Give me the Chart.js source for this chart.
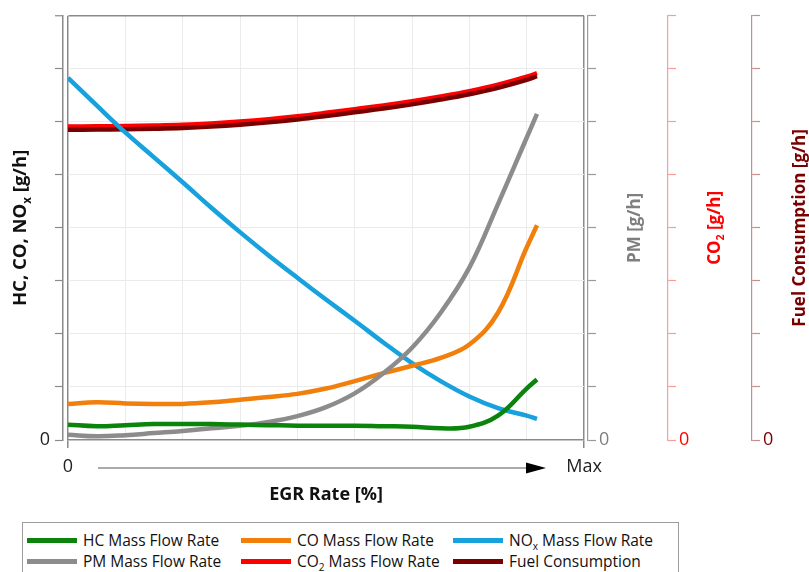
<!DOCTYPE html>
<html>
<head>
<meta charset="utf-8">
<script src="https://cdn.jsdelivr.net/npm/chart.js@4.4.1/dist/chart.umd.min.js"></script>
<style>
  html, body { margin: 0; padding: 0; background: #fff; }
  #wrap { position: relative; width: 809px; height: 572px; overflow: hidden; }
  #legend {
    position: absolute; left: 22px; top: 522px; width: 657px; height: 62px;
    border: 1px solid #9c9c9c; box-sizing: border-box; background: #fff;
    font-family: "Open Sans", sans-serif; font-size: 15.5px; color: #111;
  }
  .item { position: absolute; display: flex; align-items: center; height: 22px; white-space: nowrap; }
  .swatch { width: 50px; height: 5px; margin-right: 6px; }
  sub { font-size: 65%; line-height: 0; vertical-align: -0.4em; }
</style>
</head>
<body>
<div id="wrap">
  <canvas id="chart" width="809" height="572"></canvas>
  <div id="legend"></div>
</div>
<script>
// EGR rate positions (0 .. 9 = Max, one unit per grid column)
const egr  = [0,    0.5,   1,    1.5,  2,     2.5,  3,     3.5,  4,     4.5,  5,    5.5,  6,    6.5,  7,    7.5,  8,    8.18];
const hc   = [0.29, 0.26,  0.28, 0.30, 0.30,  0.30, 0.29,  0.28, 0.27,  0.27, 0.27, 0.26, 0.25, 0.22, 0.25, 0.46, 0.97, 1.14];
const co   = [0.68, 0.71,  0.69, 0.68, 0.68,  0.71, 0.76,  0.81, 0.87,  0.97, 1.11, 1.26, 1.40, 1.55, 1.80, 2.40, 3.63, 4.05];
const nox  = [6.83, 6.31,  5.80, 5.33, 4.86,  4.38, 3.92,  3.48, 3.06,  2.65, 2.25, 1.84, 1.45, 1.11, 0.82, 0.60, 0.46, 0.40];
const pm   = [0.10, 0.07,  0.09, 0.13, 0.17,  0.22, 0.27,  0.34, 0.45,  0.62, 0.88, 1.26, 1.74, 2.40, 3.25, 4.45, 5.70, 6.15];
const co2  = [5.91, 5.915, 5.92, 5.93, 5.945, 5.97, 6.005, 6.05, 6.105, 6.17, 6.24, 6.31, 6.39, 6.48, 6.58, 6.70, 6.85, 6.92];
const fuel = [5.85, 5.855, 5.86, 5.87, 5.885, 5.91, 5.945, 5.99, 6.045, 6.11, 6.18, 6.25, 6.33, 6.42, 6.52, 6.64, 6.79, 6.86];

const names = ["HC Mass Flow Rate", "CO Mass Flow Rate", "NOx Mass Flow Rate",
               "PM Mass Flow Rate", "CO2 Mass Flow Rate", "Fuel Consumption"];
const colors = ["#0a840a", "#f07f0c", "#17a1dd", "#8c8c8c", "#ff0000", "#7a0000"];

const frame = "#8a8a8a";
const faint = "#ebebeb";
const tickFont = { family: "Open Sans", size: 18 };

const pts = ys => egr.map((x, i) => ({ x: x, y: ys[i] }));

function series(i, data, axis, order) {
  return {
    label: names[i],
    data: pts(data),
    borderColor: colors[i],
    backgroundColor: colors[i],
    borderWidth: 4.5,
    pointRadius: 0,
    tension: 0.4,
    yAxisID: axis,
    order: order,
  };
}

// right-hand axes only carry a "0" label and tick marks
function sideAxis(weight, color, labelColor, width) {
  return {
    position: "right",
    weight: weight,
    min: 0,
    max: 8,
    grid: { drawOnChartArea: false, color: color, tickLength: 8, tickWidth: 1.2 },
    border: { color: color, width: 1.2 },
    ticks: { stepSize: 1, padding: 3, color: labelColor, font: tickFont,
             callback: v => (v === 0 ? "0" : "") },
    afterFit: s => { s.width = width; },
  };
}

function spacer(position, width) {
  return {
    position: position,
    weight: 0,
    grid: { display: false },
    ticks: { display: false },
    border: { display: false },
    afterFit: s => { s.width = width; },
  };
}

const axisTitles = [
  { axis: "y",     dx: 21, size: 18.5, color: "#111111", parts: [["HC, CO, NO"], ["x", true], [" [g/h]"]] },
  { axis: "yPM",   dx: 47, size: 17, color: "#7f7f7f", parts: [["PM [g/h]"]] },
  { axis: "yCO2",  dx: 47, size: 17, color: "#ff0000", parts: [["CO"], ["2", true], [" [g/h]"]] },
  { axis: "yFuel", dx: 48, size: 17, color: "#7a0000", parts: [["Fuel Consumption [g/h]"]] },
];

function drawVertical(ctx, parts, x, y, size, color) {
  const fontOf = sub => "bold " + (sub ? size * 0.62 : size) + "px 'Open Sans'";
  ctx.save();
  ctx.translate(x, y);
  ctx.rotate(-Math.PI / 2);
  ctx.fillStyle = color;
  ctx.textBaseline = "middle";
  ctx.textAlign = "left";
  let total = 0;
  parts.forEach(p => { ctx.font = fontOf(p[1]); total += ctx.measureText(p[0]).width; });
  let cx = -total / 2;
  parts.forEach(p => {
    ctx.font = fontOf(p[1]);
    ctx.fillText(p[0], cx, p[1] ? size * 0.38 : 0);
    cx += ctx.measureText(p[0]).width;
  });
  ctx.restore();
}

const decor = {
  id: "decor",
  afterDraw(chart) {
    const { ctx, chartArea, scales } = chart;
    const midY = (chartArea.top + chartArea.bottom) / 2;
    axisTitles.forEach(t =>
      drawVertical(ctx, t.parts, scales[t.axis].left + t.dx, midY, t.size, t.color));

    // arrow between the "0" and "Max" labels
    const xs = scales.x;
    const y = xs.top + 28;
    const x0 = xs.left + 30;
    const x1 = xs.right - 38;
    ctx.save();
    ctx.strokeStyle = "#8f8f8f";
    ctx.lineWidth = 1.3;
    ctx.beginPath();
    ctx.moveTo(x0, y);
    ctx.lineTo(x1 - 18, y);
    ctx.stroke();
    ctx.fillStyle = "#000";
    ctx.beginPath();
    ctx.moveTo(x1, y);
    ctx.lineTo(x1 - 20, y - 5.5);
    ctx.lineTo(x1 - 20, y + 5.5);
    ctx.closePath();
    ctx.fill();
    ctx.restore();
  },
};

const chart = new Chart(document.getElementById("chart"), {
  type: "line",
  data: {
    datasets: [
      series(0, hc, "y", 0),
      series(1, co, "y", 2),
      series(2, nox, "y", 3),
      series(3, pm, "yPM", 1),
      series(4, co2, "yCO2", 5),
      series(5, fuel, "yFuel", 4),
    ],
  },
  options: {
    responsive: false,
    animation: false,
    layout: { padding: { top: 12, bottom: 62, left: 0, right: 0 } },
    plugins: { legend: { display: false }, tooltip: { enabled: false } },
    scales: {
      x: {
        type: "linear",
        min: 0,
        max: 9,
        grid: {
          color: c => (c.index === 0 || c.index === 9 ? frame : faint),
          lineWidth: c => (c.index === 0 || c.index === 9 ? 1.5 : 1),
          tickColor: c => (c.index === 0 || c.index === 9 ? frame : "transparent"),
          tickLength: 8,
          tickWidth: 1.5,
        },
        border: { color: frame, width: 1.5 },
        ticks: {
          stepSize: 1, autoSkip: false, maxRotation: 0, padding: 8,
          color: "#222", font: tickFont,
          callback: v => (v === 0 ? "0" : v === 9 ? "Max" : ""),
        },
        title: {
          display: true, text: "EGR Rate [%]", color: "#111",
          font: { family: "Open Sans", size: 18, weight: "bold" },
          padding: { top: 0, bottom: 4 },
        },
        afterFit: s => { s.height = 70; },
      },
      y: {
        position: "left",
        weight: 10,
        min: 0,
        max: 8,
        grid: {
          color: c => (c.index === 8 ? frame : c.index === 0 ? "transparent" : faint),
          lineWidth: c => (c.index === 8 ? 1.5 : 1),
          tickColor: frame,
          tickLength: 8,
          tickWidth: 1.2,
        },
        border: { color: frame, width: 1.5 },
        ticks: { stepSize: 1, padding: 5, color: "#222", font: tickFont,
                 callback: v => (v === 0 ? "0" : "") },
        afterFit: s => { s.width = 63; },
      },
      padL: spacer("left", 5),
      padR: spacer("right", 4),
      yPM: sideAxis(1, "#9a9a9a", "#7f7f7f", 80),
      yCO2: sideAxis(2, "#ff9a9a", "#ff0000", 84),
      yFuel: sideAxis(3, "#c98d8d", "#7a0000", 57),
    },
  },
  plugins: [decor],
});

// HTML legend, three columns by two rows, built from the datasets
const subs = s => s.replace("NOx", "NO<sub>x</sub>").replace("CO2", "CO<sub>2</sub>");
const colLeft = [4, 218, 430];
const rowTop = [6, 27];
const legend = document.getElementById("legend");
chart.data.datasets.forEach((ds, i) => {
  const el = document.createElement("div");
  el.className = "item";
  el.style.left = colLeft[i % 3] + "px";
  el.style.top = rowTop[Math.floor(i / 3)] + "px";
  el.innerHTML = '<span class="swatch" style="background:' + ds.borderColor + '"></span>' +
                 "<span>" + subs(ds.label) + "</span>";
  legend.appendChild(el);
});
</script>
</body>
</html>
